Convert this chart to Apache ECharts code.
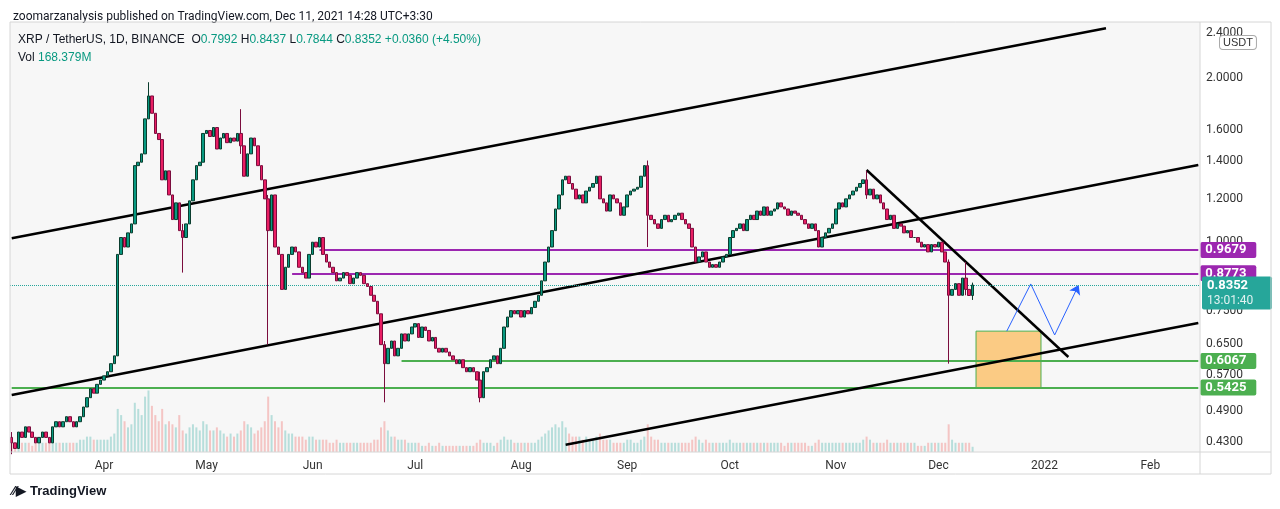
<!DOCTYPE html>
<html><head><meta charset="utf-8">
<script src="https://cdn.jsdelivr.net/npm/echarts@6/dist/echarts.min.js"></script>
<style>html,body{margin:0;background:#fff}#c{width:1280px;height:509px}</style>
</head><body><div id="c"></div>
<script>
// daily closes, Mar 5 2021 .. Dec 11 2021
var closes = [
  0.43,0.42,0.45,0.44,0.46,0.45,0.44,0.43,0.44,0.45,0.44,0.43,0.46,0.47,0.46,0.47,0.48,0.47,0.46,0.47,0.48,0.50,0.52,0.54,0.53,0.55,0.56,
  0.57,0.58,0.60,0.62,0.95,1.02,0.98,1.04,1.08,1.38,1.40,1.45,1.68,1.85,1.72,1.58,1.54,1.30,1.35,1.22,1.10,1.18,1.05,1.02,1.08,1.19,1.30,1.38,1.40,1.58,
  1.60,1.56,1.62,1.48,1.55,1.58,1.52,1.55,1.53,1.58,1.50,1.32,1.45,1.55,1.50,1.38,1.30,1.20,1.05,1.22,0.98,0.95,0.82,0.90,0.95,0.98,0.96,0.90,0.88,0.86,0.95,
  1.00,0.98,1.02,0.95,0.92,0.90,0.88,0.85,0.86,0.88,0.87,0.84,0.86,0.88,0.87,0.84,0.83,0.80,0.78,0.74,0.65,0.60,0.64,0.66,0.62,0.64,0.68,0.66,0.68,0.70,
  0.71,0.67,0.70,0.69,0.66,0.67,0.64,0.63,0.64,0.63,0.62,0.61,0.60,0.61,0.59,0.58,0.59,0.58,0.56,0.52,0.58,0.59,0.61,0.62,0.60,0.64,0.70,0.73,0.75,0.74,0.75,
  0.73,0.75,0.74,0.76,0.78,0.80,0.85,0.92,0.98,1.05,1.15,1.22,1.30,1.32,1.28,1.25,1.20,1.22,1.18,1.24,1.26,1.28,1.32,1.20,1.18,1.14,1.22,1.20,1.18,1.12,1.16,
  1.22,1.24,1.25,1.26,1.32,1.38,1.12,1.10,1.08,1.06,1.10,1.12,1.09,1.10,1.12,1.13,1.10,1.08,1.06,0.98,0.92,0.94,0.96,0.92,0.90,0.91,0.90,0.92,0.94,0.95,
  1.02,1.05,1.06,1.08,1.05,1.10,1.12,1.10,1.14,1.12,1.16,1.12,1.14,1.15,1.18,1.16,1.15,1.12,1.14,1.13,1.12,1.10,1.08,1.06,1.08,1.05,0.98,1.02,1.04,1.06,1.08,
  1.15,1.18,1.16,1.20,1.22,1.24,1.26,1.28,1.30,1.22,1.25,1.20,1.22,1.18,1.15,1.10,1.12,1.06,1.08,1.07,1.04,1.05,1.02,1.02,1.00,0.98,0.99,0.96,0.99,0.98,
  1.00,0.96,0.92,0.80,0.82,0.84,0.80,0.86,0.82,0.7992,0.8352
];
// notable wicks: day index -> [low, high]
var wicks = {0:[0.41,0.45],40:[1.70,1.96],50:[0.88,1.08],67:[1.45,1.75],75:[0.65,1.22],109:[0.51,0.66],137:[0.51,0.58],
  186:[0.98,1.41],250:[1.20,1.35],274:[0.60,0.93],279:[0.80,0.92],281:[0.7844,0.8437]};
var volumes = [
  3,3,4,3,3,3,2,3,3,3,3,3,4,3,3,3,3,3,3,3,4,4,5,5,4,4,4,
  4,4,5,6,14,12,10,8,9,16,14,12,18,20,15,12,10,14,9,10,9,8,12,7,6,8,9,8,7,10,
  9,7,7,8,7,6,5,6,5,6,7,10,9,8,6,7,8,10,18,12,10,8,10,7,6,6,5,5,5,4,5,
  5,4,4,4,4,3,3,4,3,3,3,3,3,3,3,3,3,3,4,4,8,10,7,5,5,4,4,4,3,3,
  3,3,2,2,3,2,2,3,2,2,2,2,2,2,2,2,2,2,3,4,3,3,3,2,3,4,5,4,4,3,3,
  3,3,3,3,3,4,5,6,7,8,9,8,10,8,6,5,5,5,4,5,4,4,5,6,4,4,4,3,3,3,3,
  4,4,3,3,4,5,9,5,4,4,3,3,3,3,3,3,3,3,3,4,5,4,3,4,3,3,3,3,3,3,
  4,3,3,3,3,3,3,3,3,3,3,3,3,3,3,3,2,3,3,3,3,3,3,2,2,3,4,3,3,3,3,
  3,3,3,3,3,3,3,3,4,5,4,3,3,3,3,4,3,3,3,3,3,3,3,3,2,2,2,3,3,3,
  3,3,3,9,4,3,3,3,3,3,1.7
];
var priceTicks = [2.4, 2.0, 1.6, 1.4, 1.2, 1.0, 0.75, 0.65, 0.57, 0.49, 0.43];
var purpleLevels = [[0.9679, '2021-06-03'], [0.8773, '2021-05-26']];
var greenLevels = [[0.6067, '2021-06-27'], [0.5425, '2021-03-05']];
var trendLines = [
  [['2021-03-05', 1.017], ['2022-01-19', 2.46]],
  [['2021-03-05', 0.526], ['2022-02-15', 1.384]],
  [['2021-08-14', 0.4265], ['2022-02-15', 0.712]],
  [['2021-11-10', 1.355], ['2022-01-08', 0.617]]
];
var zoneBox = [['2021-12-12', 0.688], ['2021-12-31', 0.5425]];
var forecast = [['2021-12-21', 0.688], ['2021-12-28', 0.839], ['2022-01-04', 0.677], ['2022-01-11', 0.835]];
var lastPrice = 0.8352;

var ln = Math.log;
var days = [];
for (var t = Date.UTC(2021, 2, 5); t <= Date.UTC(2022, 1, 15); t += 86400000) {
  days.push(new Date(t).toISOString().slice(0, 10));
}
var monthName = {'01':'2022','02':'Feb','03':'Mar','04':'Apr','05':'May','06':'Jun','07':'Jul','08':'Aug','09':'Sep','10':'Oct','11':'Nov','12':'Dec'};

var candles = [], vols = [];
closes.forEach(function (c, i) {
  var o = i === 0 ? 0.44 : closes[i - 1];
  if (i === 281) o = 0.7992;
  var lo = Math.min(o, c), hi = Math.max(o, c);
  if (wicks[i]) { lo = Math.min(lo, wicks[i][0]); hi = Math.max(hi, wicks[i][1]); }
  candles.push([ln(o), ln(c), ln(lo), ln(hi)]);
  vols.push({value: volumes[i], itemStyle: {color: c >= o ? 'rgba(38,166,154,0.3)' : 'rgba(239,83,80,0.3)'}});
});

var tag = function (bg, v) {
  return {show: true, position: 'end', distance: 2, color: '#fff', fontWeight: 'bold', fontSize: 13,
    backgroundColor: bg, padding: [2, 5, 1, 5], borderRadius: 2, width: 46, formatter: v.toFixed(4)};
};
var marks = [];
priceTicks.forEach(function (v) {
  marks.push({yAxis: ln(v), lineStyle: {color: 'rgba(0,0,0,0)', width: 0},
    label: {show: true, position: 'end', distance: 6, color: '#333', fontSize: 12, formatter: v.toFixed(4)}});
});
purpleLevels.forEach(function (l) {
  marks.push([{coord: [l[1], ln(l[0])], lineStyle: {color: '#9c27b0', width: 2, type: 'solid'}},
    {coord: [days[days.length - 1], ln(l[0])], label: tag('#9c27b0', l[0])}]);
});
greenLevels.forEach(function (l) {
  marks.push([{coord: [l[1], ln(l[0])], lineStyle: {color: '#4caf50', width: 2, type: 'solid'}},
    {coord: [days[days.length - 1], ln(l[0])], label: tag('#4caf50', l[0])}]);
});
trendLines.forEach(function (tl) {
  marks.push([{coord: [tl[0][0], ln(tl[0][1])], lineStyle: {color: '#000', width: 2.5, type: 'solid'}},
    {coord: [tl[1][0], ln(tl[1][1])]}]);
});
for (var k = 0; k < forecast.length - 1; k++) {
  marks.push([{coord: [forecast[k][0], ln(forecast[k][1])], lineStyle: {color: '#2962ff', width: 1, type: 'solid'}},
    {coord: [forecast[k + 1][0], ln(forecast[k + 1][1])], symbol: k === forecast.length - 2 ? 'arrow' : 'none', symbolSize: 9}]);
}
marks.push({yAxis: ln(lastPrice), lineStyle: {color: '#26a69a', width: 1, type: 'dotted'},
  label: {show: true, position: 'end', distance: 2, offset: [0, 8], color: '#fff', fontWeight: 'bold', fontSize: 13, lineHeight: 15,
    backgroundColor: '#26a69a', padding: [2, 5, 1, 5], borderRadius: 2, width: 60,
    formatter: lastPrice.toFixed(4) + '\n{t|13:01:40}', rich: {t: {color: '#e0f2f1', fontSize: 12, fontWeight: 'normal', lineHeight: 15}}}});

var chart = echarts.init(document.getElementById('c'));
chart.setOption({
  animation: false,
  backgroundColor: '#fff',
  textStyle: {fontFamily: 'Roboto, "DejaVu Sans", sans-serif'},
  title: {text: 'zoomarzanalysis published on TradingView.com, Dec 11, 2021 14:28 UTC+3:30', left: 8, top: 6,
    textStyle: {fontSize: 12, fontWeight: 'normal', color: '#131722'}},
  graphic: [
    {type: 'rect', z: -1, shape: {x: 10, y: 22, width: 1190, height: 430}, style: {fill: '#f7f7f7'}},
    {type: 'rect', z: 50, shape: {x: 10, y: 22, width: 1261, height: 452}, style: {fill: 'none', stroke: '#d6d6d6', lineWidth: 1}},
    {type: 'line', z: 50, shape: {x1: 1200, y1: 22, x2: 1200, y2: 474}, style: {stroke: '#d6d6d6'}},
    {type: 'line', z: 50, shape: {x1: 10, y1: 452, x2: 1271, y2: 452}, style: {stroke: '#d6d6d6'}},
    {type: 'text', z: 60, left: 18, top: 34, style: {
      text: '{b|XRP / TetherUS, 1D, BINANCE}  {b|O}{g|0.7992} {b|H}{g|0.8437} {b|L}{g|0.7844} {b|C}{g|0.8352} {g|+0.0360 (+4.50%)}\n{b|Vol} {g|168.379M}',
      rich: {b: {fontSize: 12, fill: '#131722', lineHeight: 18}, g: {fontSize: 12, fill: '#089981', lineHeight: 18}}}},
    {type: 'text', z: 60, left: 1219, top: 35, style: {text: 'USDT', fontSize: 11, fill: '#333', backgroundColor: '#fff',
      borderColor: '#aaa', borderWidth: 1, borderRadius: 3, padding: [1, 3]}},
    {type: 'text', z: 60, left: 12, top: 485, style: {text: '⁄⁄▶ TradingView', fontSize: 13, fontWeight: 'bold', fill: '#131722'}}
  ],
  grid: [
    {left: 10, right: 80, top: 22, bottom: 57},
    {left: 10, right: 80, top: 372, bottom: 57}
  ],
  xAxis: [
    {type: 'category', data: days, gridIndex: 0,
      axisLine: {show: false}, axisTick: {show: false}, splitLine: {show: false},
      axisLabel: {margin: 8, color: '#333', fontSize: 12,
        interval: function (i, v) { return v.slice(8) === '01' && v.slice(5, 7) !== '03'; },
        formatter: function (v) { return monthName[v.slice(5, 7)]; }}},
    {type: 'category', data: days, gridIndex: 1, show: false}
  ],
  yAxis: [
    {type: 'value', gridIndex: 0, position: 'right', min: ln(0.4138), max: ln(2.525), scale: true,
      axisLabel: {show: false}, splitLine: {show: false}, axisLine: {show: false}, axisTick: {show: false}},
    {type: 'value', gridIndex: 1, min: 0, max: 26, show: false, splitLine: {show: false}}
  ],
  series: [
    {type: 'bar', xAxisIndex: 1, yAxisIndex: 1, data: vols, barWidth: 2},
    {type: 'candlestick', data: candles, barWidth: 3, z: 5,
      itemStyle: {color: '#089981', color0: '#e91e63', borderColor: '#0b3d2e', borderColor0: '#7b0d3e', borderWidth: 1},
      markArea: {silent: true, itemStyle: {color: 'rgba(255,167,38,0.55)', borderColor: '#4caf50', borderWidth: 1},
        data: [[{coord: [zoneBox[0][0], ln(zoneBox[0][1])]}, {coord: [zoneBox[1][0], ln(zoneBox[1][1])]}]]},
      markLine: {silent: true, symbol: 'none', animation: false, labelLayout: {hideOverlap: false}, data: marks}}
  ]
});
</script>
</body></html>
